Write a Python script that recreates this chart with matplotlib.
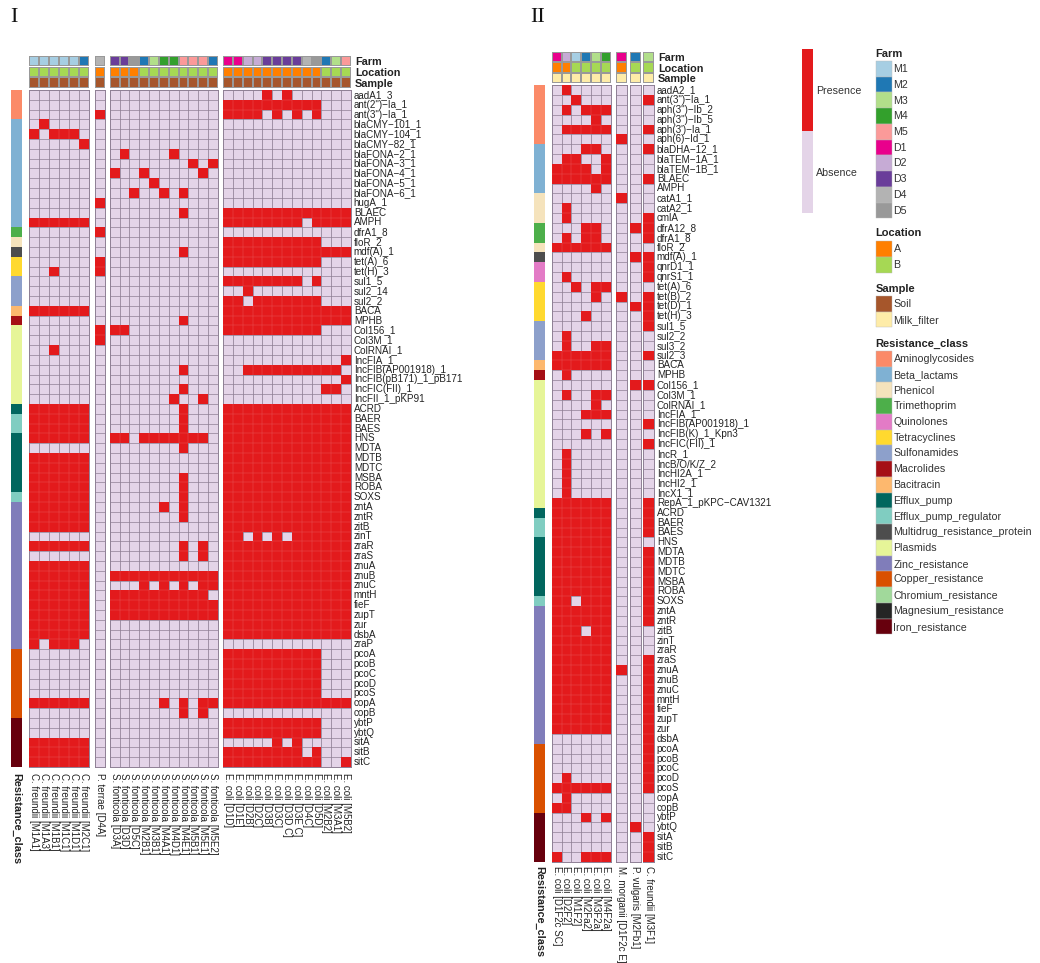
import numpy as np
import matplotlib
matplotlib.use('Agg')
import matplotlib.pyplot as plt
from matplotlib.colors import ListedColormap

plt.rcParams['font.family'] = ['Liberation Sans', 'DejaVu Sans']

W, H = 1040, 963

# couleurs
presence_col = '#E31A1C'
absence_col = '#E4D4E8'
farm_colors = {'M1': '#A6CEE3', 'M2': '#1F78B4', 'M3': '#B2DF8A', 'M4': '#33A02C', 'M5': '#FB9A99',
               'D1': '#E9008C', 'D2': '#C6ABD5', 'D3': '#6A3D9A', 'D4': '#B3B3B3', 'D5': '#999999'}
location_colors = {'A': '#FF7F00', 'B': '#A6D854'}
sample_colors = {'Soil': '#A6562B', 'Milk_filter': '#FEECA8'}
class_colors = {'Aminoglycosides': '#FB8A68', 'Beta_lactams': '#7FB1D3', 'Phenicol': '#F5E3BC',
                'Trimethoprim': '#4DAF4A', 'Quinolones': '#E37BC6', 'Tetracyclines': '#FFD92F',
                'Sulfonamides': '#8DA0CB', 'Macrolides': '#A50F15', 'Bacitracin': '#FDB86E',
                'Efflux_pump': '#01665E', 'Efflux_pump_regulator': '#80CDC1',
                'Multidrug_resistance_protein': '#4D4D4D', 'Plasmids': '#E6F598',
                'Zinc_resistance': '#807DBA', 'Copper_resistance': '#D95000',
                'Chromium_resistance': '#A1D99B', 'Magnesium_resistance': '#252525',
                'Iron_resistance': '#67000D'}

# Panneau I
genes_1 = ['aadA1_3', 'ant(2")\u2212Ia_1', 'ant(3")\u2212Ia_1', 'blaCMY\u2212101_1', 'blaCMY\u2212104_1', 'blaCMY\u221282_1',
           'blaFONA\u22122_1', 'blaFONA\u22123_1', 'blaFONA\u22124_1', 'blaFONA\u22125_1', 'blaFONA\u22126_1', 'hugA_1',
           'BLAEC', 'AMPH', 'dfrA1_8', 'floR_2', 'mdf(A)_1', 'tet(A)_6', 'tet(H)_3', 'sul1_5', 'sul2_14', 'sul2_2',
           'BACA', 'MPHB', 'Col156_1', 'Col3M_1', 'ColRNAI_1', 'IncFIA_1', 'IncFIB(AP001918)_1',
           'IncFIB(pB171)_1_pB171', 'IncFIC(FII)_1', 'IncFII_1_pKP91', 'ACRD', 'BAER', 'BAES', 'HNS', 'MDTA', 'MDTB',
           'MDTC', 'MSBA', 'ROBA', 'SOXS', 'zntA', 'zntR', 'zitB', 'zinT', 'zraR', 'zraS', 'znuA', 'znuB', 'znuC',
           'mntH', 'fieF', 'zupT', 'zur', 'dsbA', 'zraP', 'pcoA', 'pcoB', 'pcoC', 'pcoD', 'pcoS', 'copA', 'copB',
           'ybtP', 'ybtQ', 'sitA', 'sitB', 'sitC']

rows_1 = [
    '000000 0 00000000000 0000101000000',
    '000000 0 00000000000 1111111111000',
    '000000 1 00000000000 1111010101000',
    '010000 0 00000000000 0000000000000',
    '101110 0 00000000000 0000000000000',
    '000001 0 00000000000 0000000000000',
    '000000 0 01000010000 0000000000000',
    '000000 0 00000000101 0000000000000',
    '000000 0 10010000010 0000000000000',
    '000000 0 00001000000 0000000000000',
    '000000 0 00100101000 0000000000000',
    '000000 1 00000000000 0000000000000',
    '000000 0 00000001000 1111111111111',
    '111111 0 00000000000 1111111101111',
    '000000 1 00000000000 0000000000000',
    '000000 0 00000000000 1111111111000',
    '000000 0 00000001000 1111111111111',
    '000000 1 00000000000 1111111111000',
    '001000 1 00000000000 0000000000000',
    '000000 0 00000000000 1111111101000',
    '000000 0 00000000000 0010000000000',
    '000000 0 00000000000 1101111111000',
    '111111 0 00000000000 1111111111111',
    '000000 0 00000001000 1111111111111',
    '000000 1 11000000000 1111111111000',
    '000000 1 00000000000 0000000000000',
    '001000 0 00000000000 0000000000000',
    '000000 0 00000000000 0000000000001',
    '000000 0 00000001000 0011111111110',
    '000000 0 00000000000 0000000000001',
    '000000 0 00000001000 0000000000110',
    '000000 0 00000010010 0000000000000',
    '111111 0 00000001000 1111111111111',
    '111111 0 00000001000 1111111111111',
    '111111 0 00000001000 1111111111111',
    '111111 0 11011111110 1111111111111',
    '000000 0 00000001000 1111111111111',
    '111111 0 00000000000 1111111111111',
    '111111 0 00000000000 1111111111111',
    '111111 0 00000001000 1111111111111',
    '111111 0 00000001000 1111111111111',
    '111111 0 00000001000 1111111111111',
    '111111 0 00000101000 1111111111111',
    '111111 0 00000001000 1111111111111',
    '111111 0 00000000000 1111111111111',
    '000000 0 00000000000 1101010111111',
    '111111 0 00000001010 1111111111111',
    '000000 0 00000001010 1111111111111',
    '111111 0 00000000000 1111111111111',
    '111111 0 11111111111 1111111111111',
    '111111 0 00010101011 1111111111111',
    '111111 0 11111111110 1111111111111',
    '111111 0 11111111111 1111111111111',
    '111111 0 11111111111 1111111111111',
    '111111 0 00000000000 1111111111111',
    '111111 0 00000000000 1111111111111',
    '101110 0 00000000000 0000000000000',
    '000000 0 00000000000 1111111111000',
    '000000 0 00000000000 1111111111000',
    '000000 0 00000000000 1111111111000',
    '000000 0 00000000000 1111111111000',
    '000000 0 00000000000 1111111111000',
    '111111 0 00000101011 1111111111111',
    '000000 0 00000001010 0000000000000',
    '000000 0 00000000000 1111111111000',
    '000000 0 00000000000 1111111111000',
    '111111 0 00000000000 0000010100000',
    '111111 0 00000000000 1111111101000',
    '111111 0 00000000000 1111111111001',
]

samples_1 = [
    ['C. freundii [M1A1]', 'C. freundii [M1A3]', 'C. freundii [M1B1]', 'C. freundii [M1C1]', 'C. freundii [M1D1]',
     'C. freundii [M2C1]'],
    ['P. terrae [D4A]'],
    ['S. fonticola [D3A]', 'S. fonticola [D3D]', 'S. fonticola [D5C]', 'S. fonticola [M2B1]', 'S. fonticola [M3B1]',
     'S. fonticola [M4A1]', 'S. fonticola [M4D1]', 'S. fonticola [M4E1]', 'S. fonticola [M5B1]',
     'S. fonticola [M5E1]', 'S. fonticola [M5E2]'],
    ['E. coli [D1D]', 'E. coli [D1E]', 'E. coli [D2B]', 'E. coli [D2C]', 'E. coli [D3B]', 'E. coli [D3C]',
     'E. coli [D3D C]', 'E. coli [D3E C]', 'E. coli [D4C]', 'E. coli [D5D]', 'E. coli [M2B2]', 'E. coli [M3A1]',
     'E. coli [M5B2]'],
]
farm_1 = [['M1', 'M1', 'M1', 'M1', 'M1', 'M2'], ['D4'],
          ['D3', 'D3', 'D5', 'M2', 'M3', 'M4', 'M4', 'M5', 'M5', 'M5', 'M2'],
          ['D1', 'D1', 'D2', 'D2', 'D3', 'D3', 'D3', 'D3', 'D4', 'D5', 'M2', 'M3', 'M5']]
location_1 = [list('BBBBBB'), list('A'), list('AAABBBBBBBB'), list('AAAAAAAAAABBB')]
sample_1 = ['Soil', 'Soil', 'Soil', 'Soil']
class_runs_1 = [('Aminoglycosides', 3), ('Beta_lactams', 11), ('Trimethoprim', 1), ('Phenicol', 1),
                ('Multidrug_resistance_protein', 1), ('Tetracyclines', 2), ('Sulfonamides', 3), ('Bacitracin', 1),
                ('Macrolides', 1), ('Plasmids', 8), ('Efflux_pump', 1), ('Efflux_pump_regulator', 2),
                ('Efflux_pump', 6), ('Efflux_pump_regulator', 1), ('Zinc_resistance', 15),
                ('Copper_resistance', 7), ('Iron_resistance', 5)]

# Panneau II
genes_2 = ['aadA2_1', 'ant(3")\u2212Ia_1', 'aph(3")\u2212Ib_2', 'aph(3")\u2212Ib_5', "aph(3')\u2212Ia_1", 'aph(6)\u2212Id_1',
           'blaDHA\u221212_1', 'blaTEM\u22121A_1', 'blaTEM\u22121B_1', 'BLAEC', 'AMPH', 'catA1_1', 'catA2_1', 'cmlA',
           'dfrA12_8', 'dfrA1_8', 'floR_2', 'mdf(A)_1', 'qnrD1_1', 'qnrS1_1', 'tet(A)_6', 'tet(B)_2', 'tet(D)_1',
           'tet(H)_3', 'sul1_5', 'sul2_2', 'sul3_2', 'sul2_3', 'BACA', 'MPHB', 'Col156_1', 'Col3M_1', 'ColRNAI_1',
           'IncFIA_1', 'IncFIB(AP001918)_1', 'IncFIB(K)_1_Kpn3', 'IncFIC(FII)_1', 'IncR_1', 'IncB/O/K/Z_2',
           'IncHI2A_1', 'IncHI2_1', 'IncX1_1', 'RepA_1_pKPC\u2212CAV1321', 'ACRD', 'BAER', 'BAES', 'HNS', 'MDTA',
           'MDTB', 'MDTC', 'MSBA', 'ROBA', 'SOXS', 'zntA', 'zntR', 'zitB', 'zinT', 'zraR', 'zraS', 'znuA', 'znuB',
           'znuC', 'mntH', 'fieF', 'zupT', 'zur', 'dsbA', 'pcoA', 'pcoB', 'pcoC', 'pcoD', 'pcoS', 'copA', 'copB',
           'ybtP', 'ybtQ', 'sitA', 'sitB', 'sitC']

rows_2 = [
    '010000 0 0 0', '001000 0 0 1', '010111 0 0 0', '000010 0 0 0', '011111 0 0 1', '000000 1 0 0',
    '000110 0 0 1', '011001 0 0 0', '111101 0 0 0', '111111 0 0 1', '000010 0 0 0', '000000 1 0 0',
    '010000 0 0 0', '010000 0 0 1', '000110 0 1 1', '010110 0 0 1', '111111 0 0 0', '000000 0 1 1',
    '000000 0 0 1', '010000 0 0 1', '001011 0 0 0', '000010 1 0 1', '000000 0 1 1', '000100 0 0 1',
    '000000 0 0 1', '010000 0 0 0', '010011 0 0 0', '111111 0 0 1', '111111 0 0 0', '010000 0 0 0',
    '000000 0 1 1', '010011 0 0 0', '000010 0 0 0', '000111 0 0 0', '000000 0 0 1', '000101 0 0 0',
    '000000 0 0 1', '010000 0 0 0', '010000 0 0 0', '010000 0 0 0', '010000 0 0 0', '010000 0 0 0',
    '111111 0 0 1', '111111 0 0 1', '111111 0 0 1', '111111 0 0 1', '111111 0 0 0', '111111 0 0 1',
    '111111 0 0 1', '111111 0 0 1', '111111 0 0 1', '111111 0 0 1', '110111 0 0 1', '111111 0 0 1',
    '111111 0 0 1', '111011 0 0 0', '111111 0 0 0', '111111 0 0 0', '111111 0 0 1', '111111 1 0 1',
    '111111 0 0 1', '111111 0 0 1', '111111 0 0 1', '111111 0 0 1', '111111 0 0 1', '111111 0 0 1',
    '000000 0 0 1', '000000 0 0 1', '000000 0 0 1', '000000 0 0 1', '010000 0 0 1', '111111 0 0 1',
    '010000 0 0 0', '110000 0 0 0', '000101 0 0 0', '000000 0 1 0', '000000 0 0 1', '000000 0 0 1',
    '100111 0 0 1',
]

samples_2 = [
    ['E. coli [D1F2c SC]', 'E. coli [D2F2]', 'E. coli [M1F2]', 'E. coli [M2Fa2]', 'E. coli [M3F2a]', 'E. coli [M4F2a]'],
    ['M. morganii [D1F2c E]'],
    ['P. vulgaris [M2Fb1]'],
    ['C. freundii [M3F1]'],
]
farm_2 = [['D1', 'D2', 'M1', 'M2', 'M3', 'M4'], ['D1'], ['M2'], ['M3']]
location_2 = [list('AABBBB'), list('A'), list('B'), list('B')]
sample_2 = ['Milk_filter', 'Milk_filter', 'Milk_filter', 'Milk_filter']
class_runs_2 = [('Aminoglycosides', 6), ('Beta_lactams', 5), ('Phenicol', 3), ('Trimethoprim', 2), ('Phenicol', 1),
                ('Multidrug_resistance_protein', 1), ('Quinolones', 2), ('Tetracyclines', 4), ('Sulfonamides', 4),
                ('Bacitracin', 1), ('Macrolides', 1), ('Plasmids', 13), ('Efflux_pump', 1),
                ('Efflux_pump_regulator', 2), ('Efflux_pump', 6), ('Efflux_pump_regulator', 1),
                ('Zinc_resistance', 14), ('Copper_resistance', 7), ('Iron_resistance', 5)]

fig = plt.figure(figsize=(W / 100, H / 100), dpi=100)
gene_size = 7.1
sample_size = 7.0
legend_size = 7.7
grid_col = '#8E7F94'
red_grid = '#EA5153'


def px_axes(x0, x1, y0, y1):
    # axes placed from pixel coordinates (y counted from the top)
    ax = fig.add_axes([x0 / W, 1 - y1 / H, (x1 - x0) / W, (y1 - y0) / H])
    ax.set_xticks([])
    ax.set_yticks([])
    ax.tick_params(length=0)
    for s in ax.spines.values():
        s.set_visible(False)
    return ax


def draw_colors(ax, color_rows, edge=None, lw=0.0):
    names = sorted({c for r in color_rows for c in r})
    idx = np.array([[names.index(c) for c in r] for r in color_rows])
    ax.pcolormesh(idx, cmap=ListedColormap(names), vmin=-0.5, vmax=len(names) - 0.5,
                  edgecolors=edge if edge else 'face', linewidth=lw)
    ax.invert_yaxis()


def draw_panel(genes, rows, samples, farm, location, sample, class_runs, spans, side, top, bottom, ann_y, lab_pad):
    blocks = list(zip(*[r.split(' ') for r in rows]))
    n = len(genes)
    last = None
    for b, (x0, x1) in enumerate(spans):
        mat = np.array([[int(c) for c in r] for r in blocks[b]])
        nr, nc = mat.shape
        ax = px_axes(x0, x1, top, bottom)
        ax.pcolormesh(np.zeros_like(mat), cmap=ListedColormap([absence_col]))
        # grille grise, puis le rouge par-dessus
        ax.hlines(np.arange(1, nr), 0, nc, color=grid_col, lw=0.5, zorder=2)
        ax.vlines(np.arange(1, nc), 0, nr, color=grid_col, lw=0.55, zorder=2)
        red = np.ma.masked_where(mat == 0, mat)
        ax.pcolormesh(red, cmap=ListedColormap([presence_col]), zorder=3)
        # lignes claires entre deux cases rouges voisines
        ri, rj = np.nonzero(mat[:-1, :] & mat[1:, :])
        if len(ri):
            ax.hlines(ri + 1, rj, rj + 1, color=red_grid, lw=0.35, zorder=4)
        ci, cj = np.nonzero(mat[:, :-1] & mat[:, 1:])
        if len(ci):
            ax.vlines(cj + 1, ci, ci + 1, color=red_grid, lw=0.35, zorder=4)
        ax.set_xlim(0, nc)
        ax.set_ylim(nr, 0)
        ax.set_xticks(np.arange(len(samples[b])) + 0.5)
        ax.set_xticklabels(samples[b], rotation=270, fontsize=sample_size, color='#222222', ha='center', va='top')
        ax.tick_params(axis='x', length=0, pad=lab_pad)
        for s in ax.spines.values():
            s.set_visible(True)
            s.set_color(grid_col)
            s.set_linewidth(0.7)
        last = ax

        # annotations en haut
        a1 = px_axes(x0, x1, ann_y[0], ann_y[0] + 10.3)
        draw_colors(a1, [[farm_colors[c] for c in farm[b]]], '#999999', 0.25)
        a2 = px_axes(x0, x1, ann_y[0] + 10.8, ann_y[0] + 21)
        draw_colors(a2, [[location_colors[c] for c in location[b]]], '#999999', 0.25)
        a3 = px_axes(x0, x1, ann_y[0] + 21.5, ann_y[1])
        draw_colors(a3, [[sample_colors[sample[b]]] * len(farm[b])], '#999999', 0.25)
        if b == len(spans) - 1:
            for a, t in zip([a1, a2, a3], ['Farm', 'Location', 'Sample']):
                a.yaxis.tick_right()
                a.set_yticks([0.5])
                a.set_yticklabels([t], fontsize=7.8, fontweight='bold', color='#222222')
                a.tick_params(axis='y', length=0, pad=3)

    last.yaxis.tick_right()
    last.set_yticks(np.arange(n) + 0.5)
    last.set_yticklabels(genes, fontsize=gene_size, color='#222222', va='center')
    last.tick_params(axis='y', length=0, pad=2)

    # barre de classes a gauche
    side_cols = []
    for name, count in class_runs:
        side_cols += [[class_colors[name]]] * count
    sa = px_axes(side[0], side[1], top, bottom)
    draw_colors(sa, side_cols)
    sa.set_xticks([0.5])
    sa.set_xticklabels(['Resistance_class'], rotation=270, fontsize=7.8, fontweight='bold', ha='center', va='top',
                       color='#222222')
    sa.tick_params(axis='x', length=0, pad=lab_pad)


draw_panel(genes_1, rows_1, samples_1, farm_1, location_1, sample_1, class_runs_1,
           [(28.7, 88.7), (94.5, 105), (109.7, 218), (223, 351)], (11, 21.7), 90, 767, (56, 88), 4.5)
draw_panel(genes_2, rows_2, samples_2, farm_2, location_2, sample_2, class_runs_2,
           [(551.7, 610.7), (616.3, 626.7), (630, 640.7), (643.3, 654)], (534.3, 545), 85.3, 861.7, (51.7, 82.7), 3)

# couche en pixels pour les legendes
overlay = fig.add_axes([0, 0, 1, 1], facecolor='none')
overlay.set_xlim(0, W)
overlay.set_ylim(H, 0)
overlay.axis('off')

overlay.text(13.5, 17, 'I', family='Liberation Serif', fontsize=16, ha='center', va='center', color='#111111')
overlay.text(538, 17, 'II', family='Liberation Serif', fontsize=16, ha='center', va='center', color='#111111')

# barre presence / absence
overlay.add_patch(plt.Rectangle((801.7, 49.3), 11, 81.7, fc=presence_col, ec='none'))
overlay.add_patch(plt.Rectangle((801.7, 131), 11, 81.7, fc=absence_col, ec='none'))
overlay.text(816, 90.5, 'Presence', fontsize=legend_size, va='center', color='#333333')
overlay.text(816, 172.5, 'Absence', fontsize=legend_size, va='center', color='#333333')


def legend(title, entries, colors, title_y, start_y):
    overlay.text(875.3, title_y, title, fontsize=8, fontweight='bold', va='center', color='#222222')
    for i, name in enumerate(entries):
        y = start_y + i * 15.75
        overlay.add_patch(plt.Rectangle((875.5, y), 16, 15.75, fc=colors[name], ec='#BBBBBB', lw=0.3))
        overlay.text(893.5, y + 8, name, fontsize=legend_size, va='center', color='#333333')


legend('Farm', list(farm_colors), farm_colors, 54, 61)
legend('Location', list(location_colors), location_colors, 233.5, 241.3)
legend('Sample', list(sample_colors), sample_colors, 288.5, 296)
legend('Resistance_class', list(class_colors), class_colors, 343.7, 351)

fig.savefig('out.png', dpi=100, facecolor='white')
